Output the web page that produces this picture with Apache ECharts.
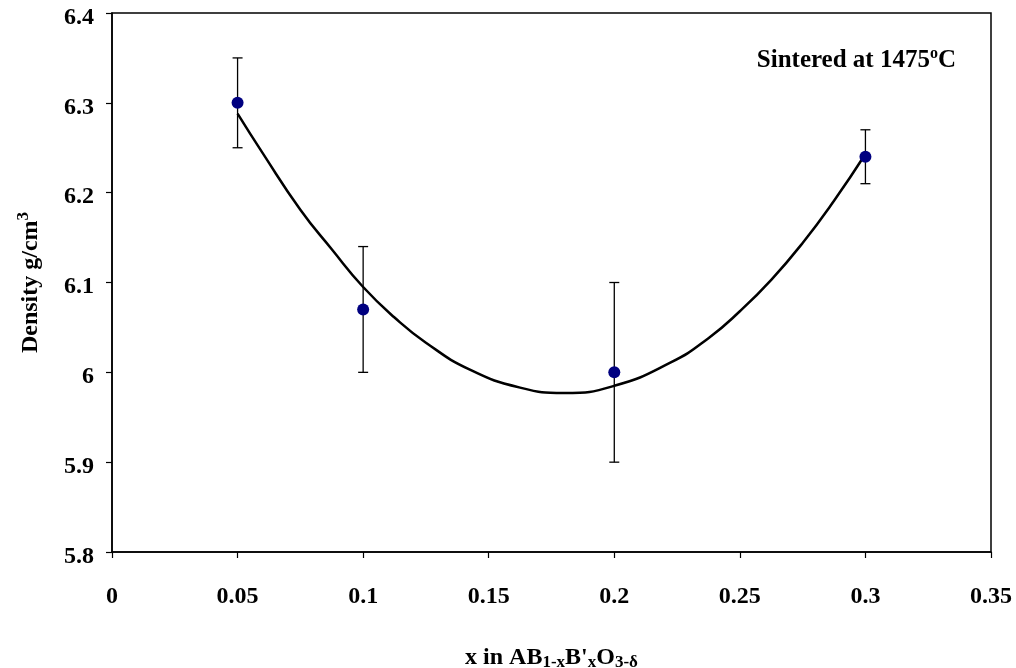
<!DOCTYPE html>
<html>
<head>
<meta charset="utf-8">
<script src="https://cdn.jsdelivr.net/npm/echarts@6/dist/echarts.min.js"></script>
<style>html,body{margin:0;padding:0;background:#fff}#c{width:1016px;height:668px}</style>
</head>
<body>
<div id="c"></div>
<script>
// Measured points
var xValues = [0.05, 0.1, 0.2, 0.3];
var density = [6.30, 6.07, 6.00, 6.24];
var errLow  = [6.25, 6.00, 5.90, 6.21];
var errHigh = [6.35, 6.14, 6.10, 6.27];
// Trend curve
var curveX = [0.05, 0.06, 0.075, 0.0875, 0.1, 0.1125, 0.125, 0.1425, 0.1625, 0.18, 0.2, 0.2225, 0.2375, 0.25, 0.2625, 0.275, 0.2875, 0.3];
var curveY = [6.288, 6.244, 6.181, 6.137, 6.095, 6.061, 6.033, 6.003, 5.983, 5.977, 5.985, 6.011, 6.038, 6.068, 6.103, 6.144, 6.191, 6.243];
// Axis ticks
var xTicks = ['0', '0.05', '0.1', '0.15', '0.2', '0.25', '0.3', '0.35'];
var yTicks = ['5.8', '5.9', '6', '6.1', '6.2', '6.3', '6.4'];

var FONT = '"Liberation Serif","Times New Roman",serif';
var chart = echarts.init(document.getElementById('c'));

var pts = xValues.map(function (x, i) { return [x, density[i]]; });
var errs = xValues.map(function (x, i) { return [x, errLow[i], errHigh[i]]; });
var curve = curveX.map(function (x, i) { return [x, curveY[i]]; });

var baseText = {fontFamily: FONT, fontWeight: 'bold', color: '#000'};

chart.setOption({
  animation: false,
  backgroundColor: '#fff',
  title: {
    text: '{m|Sintered at 1475}{sup|o}{m|C}',
    right: 55, top: 41,
    textStyle: {
      rich: {
        m: Object.assign({fontSize: 25, lineHeight: 30}, baseText),
        sup: Object.assign({fontSize: 16, lineHeight: 16, padding: [0, 0, 14, 0]}, baseText)
      }
    }
  },
  grid: {left: 112, right: 25, top: 13, bottom: 116, outerBoundsMode: 'none', containLabel: false,
    show: true, borderColor: '#000', borderWidth: 1.5},
  xAxis: {
    type: 'value', min: 0, max: 0.35, interval: 0.05,
    axisLine: {show: true, lineStyle: {color: '#000', width: 1.5}},
    axisTick: {show: true, length: 6, lineStyle: {color: '#000', width: 1.2}},
    splitLine: {show: false},
    axisLabel: Object.assign({fontSize: 24, margin: 33, formatter: function (v) {
      var i = Math.round(v / 0.05); return xTicks[i];
    }}, baseText),
    name: '{m|x in AB}{sub|1-x}{m|B\'}{sub|x}{m|O}{sub|3-δ}',
    nameLocation: 'middle', nameGap: 91,
    nameTextStyle: {
      rich: {
        m: Object.assign({fontSize: 24, lineHeight: 30}, baseText),
        sub: Object.assign({fontSize: 17, lineHeight: 20, padding: [9, 0, 0, 0]}, baseText)
      }
    }
  },
  yAxis: {
    type: 'value', min: 5.8, max: 6.4, interval: 0.1,
    axisLine: {show: true, lineStyle: {color: '#000', width: 1.5}},
    axisTick: {show: true, length: 6, lineStyle: {color: '#000', width: 1.2}},
    splitLine: {show: false},
    axisLabel: Object.assign({fontSize: 24, margin: 18, verticalAlign: 'top', lineHeight: 9, formatter: function (v) {
      var i = Math.round((v - 5.8) / 0.1); return yTicks[i];
    }}, baseText),
    name: '{m|Density g/cm}{sup|3}',
    nameLocation: 'middle', nameGap: 66,
    nameTextStyle: {
      rich: {
        m: Object.assign({fontSize: 24, lineHeight: 30}, baseText),
        sup: Object.assign({fontSize: 17, lineHeight: 16, padding: [0, 0, 14, 0]}, baseText)
      }
    }
  },
  series: [
    {
      type: 'line', data: curve, smooth: true, showSymbol: false, symbol: 'none',
      lineStyle: {color: '#000', width: 2.5}, z: 2
    },
    {
      type: 'custom', data: errs, z: 3,
      renderItem: function (params, api) {
        var x = api.value(0);
        var lo = api.coord([x, api.value(1)]);
        var hi = api.coord([x, api.value(2)]);
        var w = 5;
        var st = {stroke: '#000', lineWidth: 1.3};
        return {type: 'group', children: [
          {type: 'line', shape: {x1: lo[0], y1: lo[1], x2: hi[0], y2: hi[1]}, style: st},
          {type: 'line', shape: {x1: lo[0] - w, y1: lo[1], x2: lo[0] + w, y2: lo[1]}, style: st},
          {type: 'line', shape: {x1: hi[0] - w, y1: hi[1], x2: hi[0] + w, y2: hi[1]}, style: st}
        ]};
      }
    },
    {
      type: 'scatter', data: pts, symbol: 'circle', symbolSize: 12, z: 4,
      itemStyle: {color: '#000080', opacity: 1}
    }
  ]
});
</script>
</body>
</html>
